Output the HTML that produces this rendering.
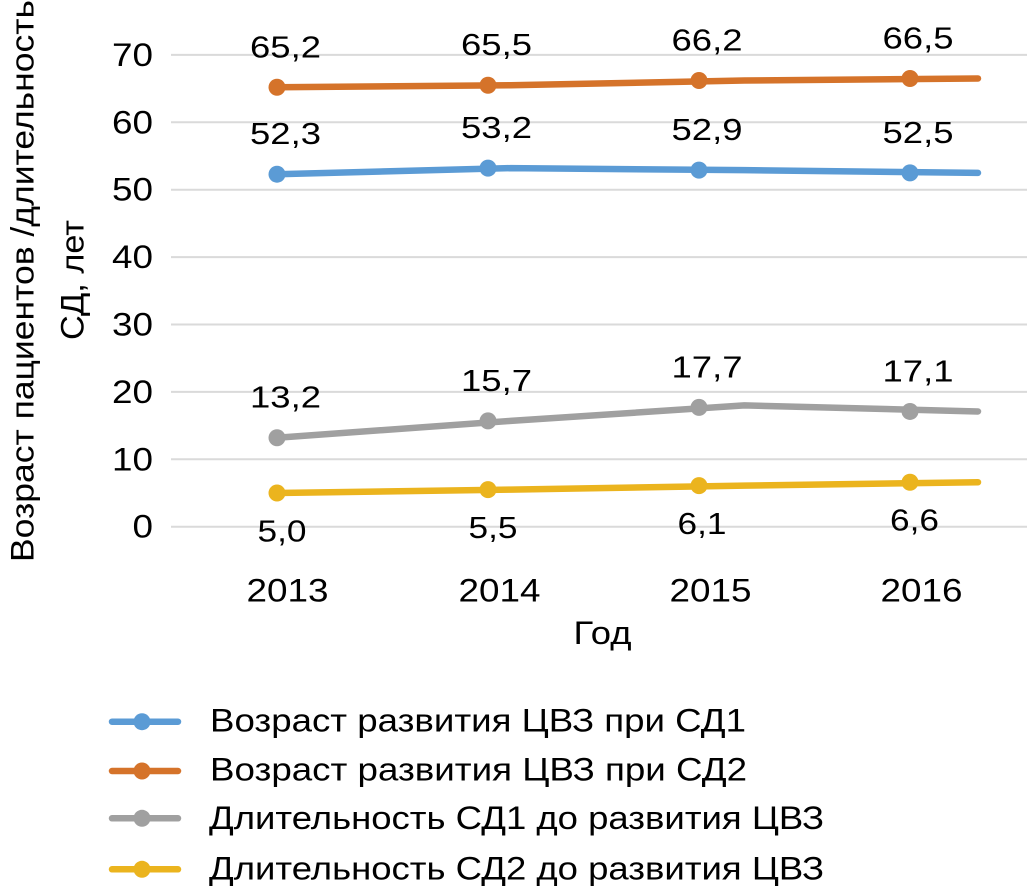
<!DOCTYPE html>
<html>
<head>
<meta charset="utf-8">
<style>
html,body{margin:0;padding:0;background:#fff;}
svg{display:block;}
text{font-family:"Liberation Sans","DejaVu Sans",sans-serif;fill:#000;}
</style>
</head>
<body>
<svg width="1033" height="892" viewBox="0 0 1033 892" xmlns="http://www.w3.org/2000/svg">
  <!-- gridlines -->
  <g stroke="#DADADA" stroke-width="2">
    <line x1="171" y1="526.7" x2="1027" y2="526.7"/>
    <line x1="171" y1="459.3" x2="1027" y2="459.3"/>
    <line x1="171" y1="391.9" x2="1027" y2="391.9"/>
    <line x1="171" y1="324.5" x2="1027" y2="324.5"/>
    <line x1="171" y1="257.1" x2="1027" y2="257.1"/>
    <line x1="171" y1="189.7" x2="1027" y2="189.7"/>
    <line x1="171" y1="122.3" x2="1027" y2="122.3"/>
    <line x1="171" y1="54.9" x2="1027" y2="54.9"/>
  </g>

  <!-- y tick labels -->
  <g font-size="32" text-anchor="end">
    <text x="153" y="537.5" textLength="20.5" lengthAdjust="spacingAndGlyphs">0</text>
    <text x="153" y="470.3" textLength="41" lengthAdjust="spacingAndGlyphs">10</text>
    <text x="153" y="402.9" textLength="41" lengthAdjust="spacingAndGlyphs">20</text>
    <text x="153" y="335.5" textLength="41" lengthAdjust="spacingAndGlyphs">30</text>
    <text x="153" y="268.1" textLength="41" lengthAdjust="spacingAndGlyphs">40</text>
    <text x="153" y="200.7" textLength="41" lengthAdjust="spacingAndGlyphs">50</text>
    <text x="153" y="133.3" textLength="41" lengthAdjust="spacingAndGlyphs">60</text>
    <text x="153" y="65.9" textLength="41" lengthAdjust="spacingAndGlyphs">70</text>
  </g>

  <!-- y axis title -->
  <text font-size="32" transform="translate(33.5,562) rotate(-90)" textLength="562" lengthAdjust="spacingAndGlyphs">Возраст пациентов /длительность</text>
  <text font-size="32" transform="translate(83.5,280) rotate(-90)" text-anchor="middle" textLength="120" lengthAdjust="spacingAndGlyphs">СД, лет</text>

  <!-- x labels -->
  <g font-size="32" text-anchor="middle">
    <text x="287.5" y="601.7" textLength="82" lengthAdjust="spacingAndGlyphs">2013</text>
    <text x="499.5" y="601.7" textLength="82" lengthAdjust="spacingAndGlyphs">2014</text>
    <text x="710.5" y="601.7" textLength="82" lengthAdjust="spacingAndGlyphs">2015</text>
    <text x="921.5" y="601.7" textLength="82" lengthAdjust="spacingAndGlyphs">2016</text>
    <text x="602.5" y="644" textLength="58" lengthAdjust="spacingAndGlyphs">Год</text>
  </g>

  <!-- series lines -->
  <g fill="none" stroke-width="6.5" stroke-linecap="round" stroke-linejoin="round">
    <polyline stroke="#D5732A" points="277,87.25 510.7,85.23 744.3,80.51 978,78.49"/>
    <polyline stroke="#5B9BD5" points="277,174.2 510.7,168.13 744.3,170.15 978,172.85"/>
    <polyline stroke="#A0A0A0" points="277,437.73 510.7,420.88 744.3,405.4 978,411.45"/>
    <polyline stroke="#EBB41E" points="277,493 510.7,489.63 744.3,485.59 978,482.22"/>
  </g>

  <!-- markers -->
  <g fill="#D5732A">
    <circle cx="277" cy="87.25" r="8.5"/><circle cx="488" cy="85.23" r="8.5"/><circle cx="699" cy="80.51" r="8.5"/><circle cx="910" cy="78.49" r="8.5"/>
  </g>
  <g fill="#5B9BD5">
    <circle cx="277" cy="174.2" r="8.5"/><circle cx="488" cy="168.13" r="8.5"/><circle cx="699" cy="170.15" r="8.5"/><circle cx="910" cy="172.85" r="8.5"/>
  </g>
  <g fill="#A0A0A0">
    <circle cx="277" cy="437.73" r="8.5"/><circle cx="488" cy="420.88" r="8.5"/><circle cx="699" cy="407.4" r="8.5"/><circle cx="910" cy="411.45" r="8.5"/>
  </g>
  <g fill="#EBB41E">
    <circle cx="277" cy="493" r="8.5"/><circle cx="488" cy="489.63" r="8.5"/><circle cx="699" cy="485.59" r="8.5"/><circle cx="910" cy="482.22" r="8.5"/>
  </g>

  <!-- data labels -->
  <g font-size="31" text-anchor="middle">
    <text x="285.5" y="57.3" textLength="71" lengthAdjust="spacingAndGlyphs">65,2</text>
    <text x="496.5" y="55.2" textLength="71" lengthAdjust="spacingAndGlyphs">65,5</text>
    <text x="707" y="50.5" textLength="71" lengthAdjust="spacingAndGlyphs">66,2</text>
    <text x="918" y="48.5" textLength="71" lengthAdjust="spacingAndGlyphs">66,5</text>

    <text x="285.5" y="144.2" textLength="71" lengthAdjust="spacingAndGlyphs">52,3</text>
    <text x="496.5" y="138.1" textLength="71" lengthAdjust="spacingAndGlyphs">53,2</text>
    <text x="707" y="140.2" textLength="71" lengthAdjust="spacingAndGlyphs">52,9</text>
    <text x="918" y="142.9" textLength="71" lengthAdjust="spacingAndGlyphs">52,5</text>

    <text x="285.5" y="407.7" textLength="71" lengthAdjust="spacingAndGlyphs">13,2</text>
    <text x="496.5" y="390.9" textLength="71" lengthAdjust="spacingAndGlyphs">15,7</text>
    <text x="707" y="377.4" textLength="71" lengthAdjust="spacingAndGlyphs">17,7</text>
    <text x="918" y="381.5" textLength="71" lengthAdjust="spacingAndGlyphs">17,1</text>

    <text x="282" y="541.5" textLength="49" lengthAdjust="spacingAndGlyphs">5,0</text>
    <text x="493" y="538.1" textLength="49" lengthAdjust="spacingAndGlyphs">5,5</text>
    <text x="702" y="534.1" textLength="49" lengthAdjust="spacingAndGlyphs">6,1</text>
    <text x="914.5" y="530.7" textLength="49" lengthAdjust="spacingAndGlyphs">6,6</text>
  </g>

  <!-- legend -->
  <g stroke-width="6.5" stroke-linecap="round">
    <line x1="112" y1="721.7" x2="178" y2="721.7" stroke="#5B9BD5"/>
    <line x1="112" y1="771" x2="178" y2="771" stroke="#D5732A"/>
    <line x1="112" y1="818.3" x2="178" y2="818.3" stroke="#A0A0A0"/>
    <line x1="112" y1="869.3" x2="178" y2="869.3" stroke="#EBB41E"/>
  </g>
  <circle cx="142" cy="721.7" r="8.5" fill="#5B9BD5"/>
  <circle cx="142" cy="771" r="8.5" fill="#D5732A"/>
  <circle cx="142" cy="818.3" r="8.5" fill="#A0A0A0"/>
  <circle cx="142" cy="869.3" r="8.5" fill="#EBB41E"/>
  <g font-size="32">
    <text x="210" y="731.7" textLength="536" lengthAdjust="spacingAndGlyphs">Возраст развития ЦВЗ при СД1</text>
    <text x="210" y="780.7" textLength="537" lengthAdjust="spacingAndGlyphs">Возраст развития ЦВЗ при СД2</text>
    <text x="209" y="828.8" textLength="615" lengthAdjust="spacingAndGlyphs">Длительность СД1 до развития ЦВЗ</text>
    <text x="209" y="879.5" textLength="615" lengthAdjust="spacingAndGlyphs">Длительность СД2 до развития ЦВЗ</text>
  </g>
</svg>
</body>
</html>
